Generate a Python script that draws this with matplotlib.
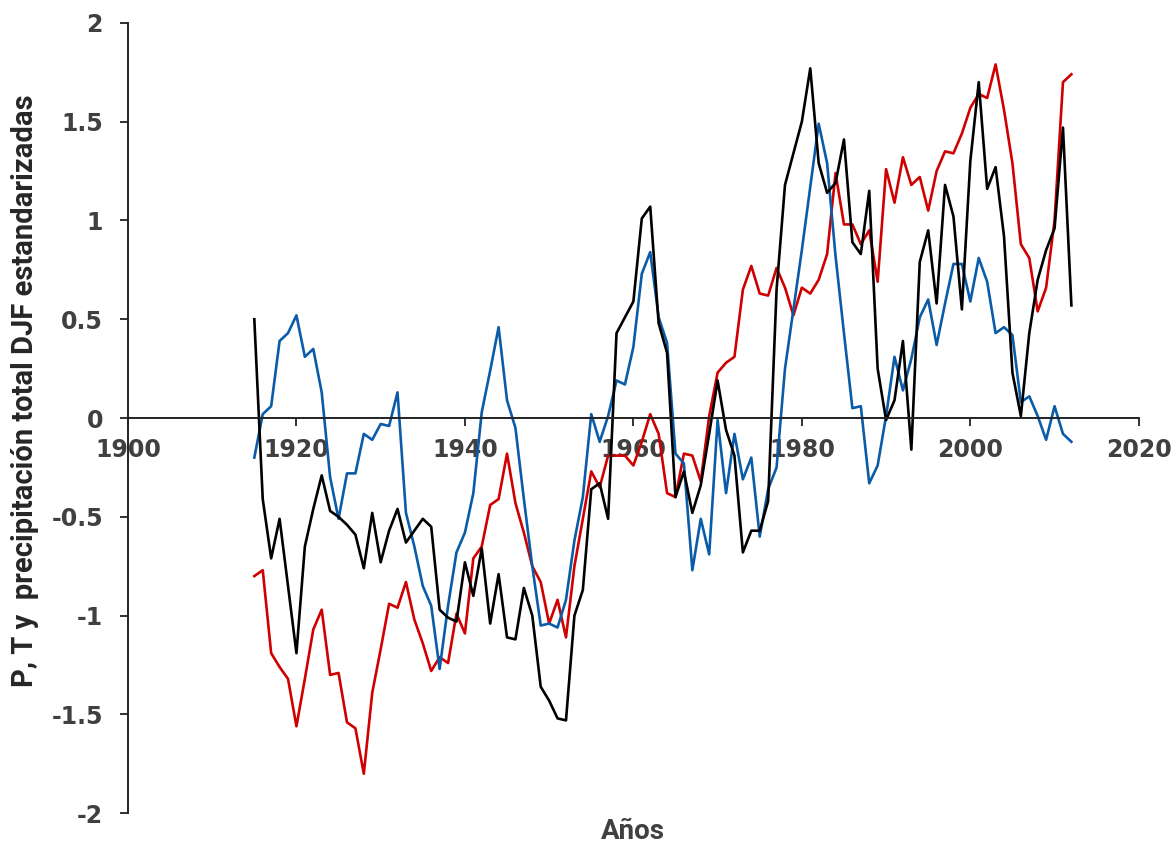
import matplotlib
matplotlib.use("Agg")
import matplotlib.pyplot as plt

# %% Series values (DJF standardised, 1915-2012)
years = list(range(1915, 2013))

serie_negra = [
    0.50, -0.41, -0.71, -0.51, -0.85, -1.19, -0.65, -0.46, -0.29, -0.47,
    -0.50, -0.54, -0.59, -0.76, -0.48, -0.73, -0.57, -0.46, -0.63, -0.57,
    -0.51, -0.55, -0.97, -1.01, -1.03, -0.73, -0.90, -0.66, -1.04, -0.79,
    -1.11, -1.12, -0.86, -1.00, -1.36, -1.43, -1.52, -1.53, -1.00, -0.87,
    -0.36, -0.33, -0.51, 0.43, 0.51, 0.59, 1.01, 1.07, 0.48, 0.33,
    -0.40, -0.27, -0.48, -0.34, -0.08, 0.19, -0.06, -0.19, -0.68, -0.57,
    -0.57, -0.42, 0.65, 1.18, 1.34, 1.50, 1.77, 1.29, 1.14, 1.19,
    1.41, 0.89, 0.83, 1.15, 0.25, -0.01, 0.09, 0.39, -0.16, 0.79,
    0.95, 0.58, 1.18, 1.02, 0.55, 1.30, 1.70, 1.16, 1.27, 0.92,
    0.23, 0.01, 0.43, 0.70, 0.85, 0.96, 1.47, 0.57,
]

serie_azul = [
    -0.20, 0.02, 0.06, 0.39, 0.43, 0.52, 0.31, 0.35, 0.13, -0.30,
    -0.51, -0.28, -0.28, -0.08, -0.11, -0.03, -0.04, 0.13, -0.48, -0.65,
    -0.85, -0.95, -1.27, -0.95, -0.68, -0.58, -0.38, 0.03, 0.24, 0.46,
    0.09, -0.05, -0.41, -0.75, -1.05, -1.04, -1.06, -0.92, -0.62, -0.40,
    0.02, -0.12, 0.01, 0.19, 0.17, 0.36, 0.73, 0.84, 0.51, 0.38,
    -0.18, -0.23, -0.77, -0.51, -0.69, -0.01, -0.38, -0.08, -0.31, -0.20,
    -0.60, -0.36, -0.25, 0.25, 0.55, 0.85, 1.17, 1.49, 1.29, 0.82,
    0.43, 0.05, 0.06, -0.33, -0.24, 0.01, 0.31, 0.14, 0.30, 0.51,
    0.60, 0.37, 0.58, 0.78, 0.78, 0.59, 0.81, 0.69, 0.43, 0.46,
    0.42, 0.08, 0.11, 0.01, -0.11, 0.06, -0.08, -0.12,
]

serie_roja = [
    -0.80, -0.77, -1.19, -1.26, -1.32, -1.56, -1.32, -1.07, -0.97, -1.30,
    -1.29, -1.54, -1.57, -1.80, -1.39, -1.17, -0.94, -0.96, -0.83, -1.02,
    -1.14, -1.28, -1.21, -1.24, -0.99, -1.09, -0.71, -0.65, -0.44, -0.41,
    -0.18, -0.43, -0.58, -0.75, -0.83, -1.04, -0.92, -1.11, -0.75, -0.51,
    -0.27, -0.35, -0.19, -0.19, -0.19, -0.24, -0.12, 0.02, -0.08, -0.38,
    -0.40, -0.18, -0.19, -0.32, 0.01, 0.23, 0.28, 0.31, 0.65, 0.77,
    0.63, 0.62, 0.76, 0.66, 0.52, 0.66, 0.63, 0.70, 0.83, 1.24,
    0.98, 0.98, 0.88, 0.95, 0.69, 1.26, 1.09, 1.32, 1.18, 1.22,
    1.05, 1.25, 1.35, 1.34, 1.44, 1.57, 1.64, 1.62, 1.79, 1.56,
    1.29, 0.88, 0.81, 0.54, 0.66, 1.00, 1.70, 1.74,
]

xticks = [1900, 1920, 1940, 1960, 1980, 2000, 2020]
yticks = [-2, -1.5, -1, -0.5, 0, 0.5, 1, 1.5, 2]
ytick_labels = ["-2", "-1.5", "-1", "-0.5", "0", "0.5", "1", "1.5", "2"]

# %% Plot
label_fonts = ["Roboto", "DejaVu Sans"]   # narrower than DejaVu, closer to Calibri
tick_grey = "#404040"

fig = plt.figure(figsize=(11.74, 8.48), dpi=100)
ax = fig.add_axes([0.109, 0.041, 0.861, 0.932])

ax.plot(years, serie_roja, color="#D00000", lw=1.9)
ax.plot(years, serie_azul, color="#0A5CA8", lw=1.9)
ax.plot(years, serie_negra, color="#000000", lw=1.9)

ax.set_xlim(1900, 2020)
ax.set_ylim(-2, 2)
ax.set_xticks(xticks)
ax.set_yticks(yticks, ytick_labels)

ax.spines["bottom"].set_position(("data", 0))
ax.spines["top"].set_visible(False)
ax.spines["right"].set_visible(False)
for s in ("bottom", "left"):
    ax.spines[s].set_linewidth(1.4)
    ax.spines[s].set_color("#222222")

ax.tick_params(axis="both", direction="out", length=6, width=1.3, color="#222222",
               labelsize=17, labelcolor=tick_grey)
ax.tick_params(axis="x", pad=8)
ax.tick_params(axis="y", pad=12)
for t in ax.get_xticklabels() + ax.get_yticklabels():
    t.set_fontweight("bold")

ax.set_ylabel("P, T y  precipitación total DJF estandarizadas", fontsize=21,
              fontweight="bold", family=label_fonts, color="#262626")
ax.yaxis.set_label_coords(-0.088, 0.535)
ax.set_xlabel("Años", fontsize=20, fontweight="bold", family=label_fonts,
              color="#404040")
ax.xaxis.set_label_coords(0.5, -0.006)

fig.savefig("out.png", dpi=100)
